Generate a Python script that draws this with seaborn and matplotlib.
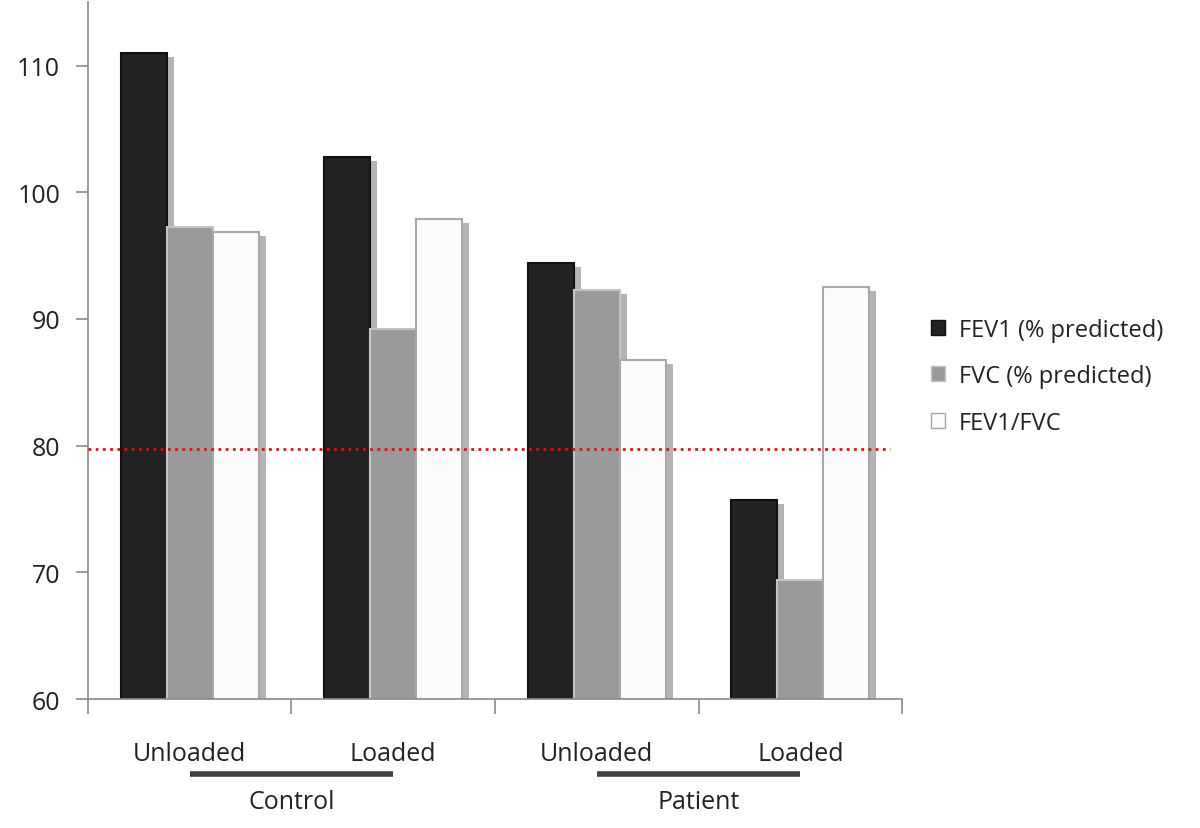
import numpy as np
import pandas as pd
import matplotlib
matplotlib.use("Agg")
import matplotlib.pyplot as plt
import matplotlib.patheffects as pe
import matplotlib.transforms as mtransforms
from matplotlib.patches import Patch
import seaborn as sns

# =============== DATA ===============
conditions = ["Control Unloaded", "Control Loaded", "Patient Unloaded", "Patient Loaded"]
tick_labels = ["Unloaded", "Loaded", "Unloaded", "Loaded"]
groups = ["Control", "Patient"]
measures = ["FEV1 (% predicted)", "FVC (% predicted)", "FEV1/FVC"]
fev1 = [111.0, 102.8, 94.4, 75.7]
fvc = [97.3, 89.2, 92.3, 69.4]
ratio = [96.9, 97.9, 86.8, 92.5]
threshold = 79.7

df = pd.DataFrame({
    "condition": conditions * 3,
    "measure": np.repeat(measures, len(conditions)),
    "value": fev1 + fvc + ratio,
})

# =============== STYLE ===============
sns.set_style("white")
plt.rcParams["font.family"] = ["Open Sans", "DejaVu Sans"]

face = ["#222222", "#9a9a9a", "#fbfbfb"]
edge = ["#111111", "#c4c4c4", "#a8a8a8"]

fig = plt.figure(figsize=(12, 8.29), dpi=100)
ax = fig.add_axes([0.0733, 0.1556, 0.6784, 0.8404])

sns.barplot(data=df, x="condition", y="value", hue="measure", order=conditions,
            hue_order=measures, palette=face, width=0.68, gap=0, legend=False,
            saturation=1, ax=ax)

shadow = [pe.SimplePatchShadow(offset=(5, -3), shadow_rgbFace="#777777", alpha=0.55), pe.Normal()]
for i, cont in enumerate(ax.containers):
    for bar in cont:
        bar.set_edgecolor(edge[i])
        bar.set_linewidth(1.5)
        bar.set_path_effects(shadow)

# =============== AXES ===============
ax.set_ylim(60, 115)
ax.set_xlim(-0.5, 3.5)
ax.set_yticks([60, 70, 80, 90, 100, 110])
ax.set_xticks(range(len(conditions)))
ax.set_xticklabels(tick_labels)
ax.set_xticks(np.arange(-0.5, 4, 1), minor=True)
ax.set_xlabel("")
ax.set_ylabel("")
sns.despine(ax=ax)
for s in ["left", "bottom"]:
    ax.spines[s].set_color("#8a8a8a")
    ax.spines[s].set_linewidth(1.2)
ax.tick_params(axis="y", left=True, length=9, width=1.2, color="#8a8a8a", pad=11,
               labelsize=18, labelcolor="#222222")
ax.tick_params(axis="x", which="major", bottom=True, length=0, pad=30, labelsize=18,
               labelcolor="#222222")
ax.tick_params(axis="x", which="minor", bottom=True, length=11, width=1.2, color="#8a8a8a")

ax.axhline(threshold, xmin=0, xmax=0.985, color="#e01010", linestyle=(0, (1, 1.6)), linewidth=2, zorder=5)

# group lines and labels below the tick labels
trans = mtransforms.blended_transform_factory(ax.transData, ax.transAxes)
for g, name in enumerate(groups):
    x0, x1 = 2 * g, 2 * g + 1
    ax.plot([x0, x1], [-0.1076, -0.1076], color="#404040", linewidth=4,
            transform=trans, clip_on=False, solid_capstyle="butt")
    ax.text((x0 + x1) / 2, -0.147, name, transform=trans, ha="center", va="center",
            fontsize=18, color="#222222")

# =============== LEGEND ===============
handles = [Patch(facecolor=face[i], edgecolor=edge[i], label=measures[i]) for i in range(3)]
fig.legend(handles=handles, loc="center left", bbox_to_anchor=(0.758, 0.545), frameon=False,
           fontsize=17, handlelength=0.6, handleheight=0.6, handletextpad=0.6,
           labelspacing=0.95, labelcolor="#222222")

fig.savefig("out.png", dpi=100)
